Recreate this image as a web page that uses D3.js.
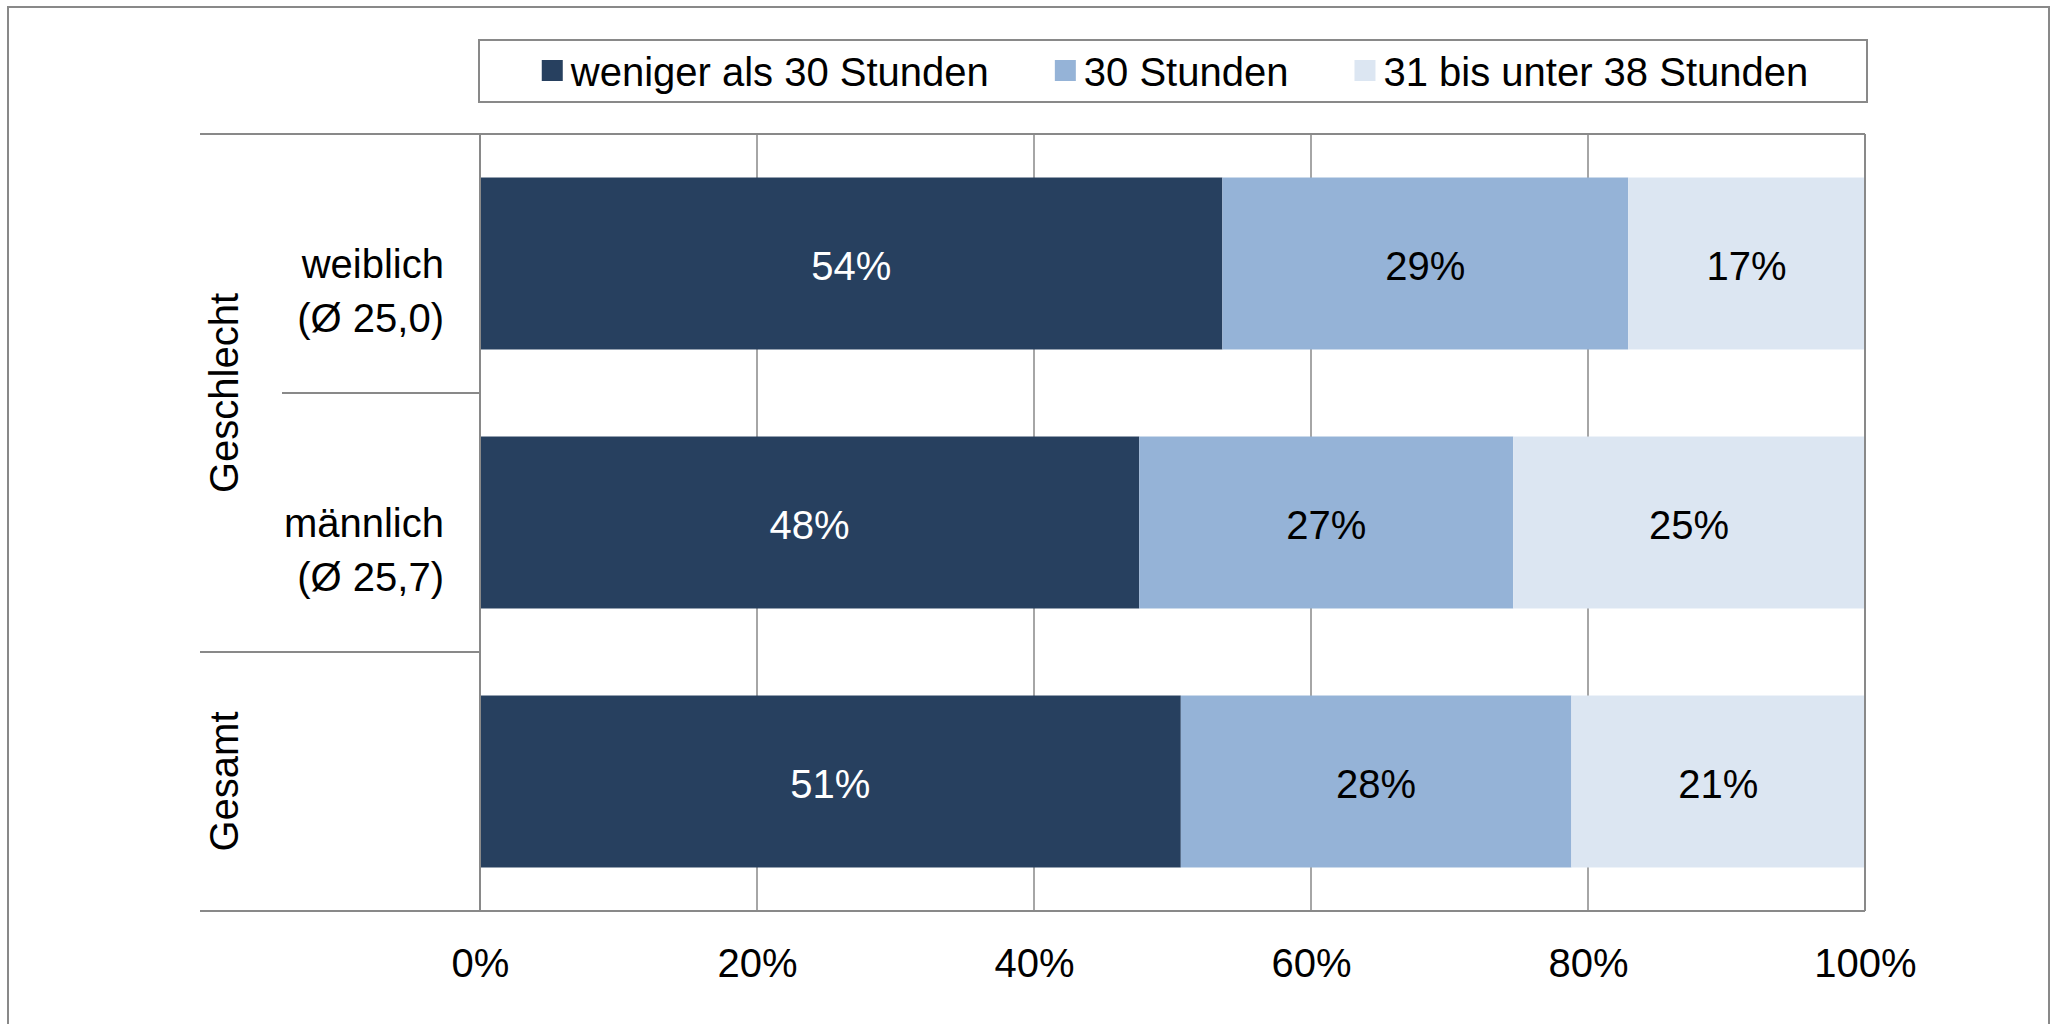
<!DOCTYPE html>
<html>
<head>
<meta charset="utf-8">
<script src="https://cdn.jsdelivr.net/npm/d3@7"></script>
<style>
  body { margin: 0; background: #fff; }
  svg { display: block; font-family: "Liberation Sans", Arial, Helvetica, sans-serif; }
</style>
</head>
<body>
<svg id="chart" width="2060" height="1024"></svg>
<script>
// categories (top to bottom) and their two-line labels
const categories = ["weiblich", "männlich", "Gesamt"];
const catLines = [["weiblich", "(Ø 25,0)"], ["männlich", "(Ø 25,7)"], []];

// grouping on the left (rotated)
const groupNames = ["Geschlecht", "Gesamt"];
const groupMembers = [["weiblich", "männlich"], ["Gesamt"]];

// series
const seriesNames = ["weniger als 30 Stunden", "30 Stunden", "31 bis unter 38 Stunden"];
const seriesColors = ["#27405f", "#95b3d7", "#dce6f2"];
const labelColors = ["#fff", "#000", "#000"];
const weniger30 = [53.6, 47.6, 50.6];
const genau30 = [29.3, 27.0, 28.2];
const bis38 = [17.1, 25.4, 21.2];
const shownLabels = [[54, 48, 51], [29, 27, 28], [17, 25, 21]];

const xTicks = [0, 20, 40, 60, 80, 100];

const svg = d3.select("#chart");
const pLeft = 480, pRight = 1865, pTop = 134, pBottom = 911;
const lineCol = "#898989";
const fs = 40;

// outer frame
svg.append("rect")
  .attr("x", 8).attr("y", 7).attr("width", 2041).attr("height", 1030)
  .attr("fill", "#fff").attr("stroke", lineCol).attr("stroke-width", 2);

const x = d3.scaleLinear().domain([0, 100]).range([pLeft, pRight]);
const y = d3.scaleBand().domain(categories).range([pTop, pBottom])
  .paddingInner(0.336).paddingOuter(0.168);

// gridlines
svg.append("g").selectAll("line")
  .data(xTicks.slice(1))
  .join("line")
  .attr("x1", d => x(d)).attr("x2", d => x(d))
  .attr("y1", pTop).attr("y2", pBottom)
  .attr("stroke", lineCol).attr("stroke-width", 1.5);

// stacked bars
const rows = categories.map((c, i) => ({cat: c, s0: weniger30[i], s1: genau30[i], s2: bis38[i]}));
const stack = d3.stack().keys(["s0", "s1", "s2"]);
const layers = stack(rows);

const barG = svg.append("g");
layers.forEach((layer, k) => {
  barG.append("g").selectAll("rect")
    .data(layer)
    .join("rect")
    .attr("x", d => x(d[0]))
    .attr("y", d => y(d.data.cat))
    .attr("width", d => x(d[1]) - x(d[0]))
    .attr("height", y.bandwidth())
    .attr("fill", seriesColors[k]);

  barG.append("g").selectAll("text")
    .data(layer)
    .join("text")
    .attr("x", d => (x(d[0]) + x(d[1])) / 2)
    .attr("y", d => y(d.data.cat) + y.bandwidth() / 2 + 16)
    .attr("text-anchor", "middle")
    .attr("font-size", fs)
    .attr("fill", labelColors[k])
    .text((d, i) => shownLabels[k][i] + "%");
});

// plot frame: top, bottom, left, right
const frame = svg.append("g").attr("stroke", lineCol).attr("stroke-width", 2);
frame.append("line").attr("x1", 200).attr("x2", pRight).attr("y1", pTop).attr("y2", pTop);
frame.append("line").attr("x1", 200).attr("x2", pRight).attr("y1", pBottom).attr("y2", pBottom);
frame.append("line").attr("x1", pLeft).attr("x2", pLeft).attr("y1", pTop).attr("y2", pBottom);
frame.append("line").attr("x1", pRight).attr("x2", pRight).attr("y1", pTop).attr("y2", pBottom);

// separators between categories / groups
categories.slice(0, -1).forEach((c, i) => {
  const yy = y(c) + y.bandwidth() + y.step() * y.paddingInner() / 2;
  const sameGroup = groupMembers.some(g => g.includes(c) && g.includes(categories[i + 1]));
  frame.append("line")
    .attr("x1", sameGroup ? 282 : 200).attr("x2", pLeft)
    .attr("y1", yy).attr("y2", yy);
});

// category labels
const catG = svg.append("g").attr("font-size", fs).attr("text-anchor", "end");
categories.forEach((c, i) => {
  const cy = y(c) + y.bandwidth() / 2;
  catLines[i].forEach((t, j) => {
    catG.append("text")
      .attr("x", 444).attr("y", cy + 14 + j * 54)
      .text(t);
  });
});

// group labels (rotated)
groupNames.forEach((g, i) => {
  const mem = groupMembers[i];
  const y0 = y(mem[0]) - y.step() * y.paddingInner() / 2;
  const y1 = y(mem[mem.length - 1]) + y.bandwidth() + y.step() * y.paddingInner() / 2;
  const cy = (Math.max(y0, pTop) + Math.min(y1, pBottom)) / 2;
  svg.append("text")
    .attr("transform", `translate(238,${cy}) rotate(-90)`)
    .attr("text-anchor", "middle")
    .attr("font-size", fs)
    .text(g);
});

// x axis
const xAxis = d3.axisBottom(x).tickValues(xTicks).tickSize(0).tickPadding(38)
  .tickFormat(d => d + "%");
const ax = svg.append("g").attr("transform", `translate(0,${pBottom})`).call(xAxis);
ax.select(".domain").remove();
ax.selectAll("text").attr("font-size", fs).attr("font-family", null).attr("fill", "#000");

// legend
const lg = svg.append("g");
lg.append("rect")
  .attr("x", 479).attr("y", 40).attr("width", 1388).attr("height", 62)
  .attr("fill", "#fff").attr("stroke", lineCol).attr("stroke-width", 2);

const items = lg.selectAll("g.item").data(seriesNames).join("g").attr("class", "item");
items.append("rect").attr("width", 21).attr("height", 21).attr("y", 60)
  .attr("fill", (d, i) => seriesColors[i]);
items.append("text").attr("y", 86).attr("font-size", fs).text(d => d);

const gap = 66, swTxt = 29;
let widths = [];
items.each(function () { widths.push(d3.select(this).select("text").node().getComputedTextLength()); });
const total = d3.sum(widths) + widths.length * swTxt + gap * (widths.length - 1);
let cx = 479 + 1388 / 2 - total / 2 + 2;
items.each(function (d, i) {
  d3.select(this).select("rect").attr("x", cx);
  d3.select(this).select("text").attr("x", cx + swTxt);
  cx += swTxt + widths[i] + gap;
});
</script>
</body>
</html>
